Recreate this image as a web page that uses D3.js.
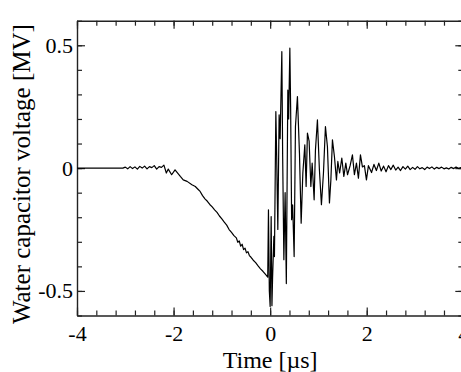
<!DOCTYPE html>
<html><head><meta charset="utf-8">
<script src="https://cdn.jsdelivr.net/npm/d3@7"></script>
<style>html,body{margin:0;padding:0;background:#fff;} svg{display:block;}</style>
</head><body><svg id="c" width="461" height="372"></svg>
<script>
// Time [µs]
const time = [
-4.00,-3.05,-3.00,-2.95,-2.90,-2.85,-2.80,-2.75,-2.70,-2.65,-2.60,-2.55,-2.50,-2.45,-2.40,-2.35,-2.30,-2.25,-2.20,-2.15,-2.11,-2.04,-1.97,-1.86,-1.80,-1.72,-1.62,-1.55,
-1.50,-1.45,-1.40,-1.35,-1.30,-1.25,-1.20,-1.15,-1.10,-1.05,-1.00,-0.95,-0.90,-0.85,-0.80,-0.75,-0.70,-0.67,-0.64,-0.61,-0.58,-0.55,-0.52,-0.49,-0.46,-0.43,-0.40,-0.35,-0.30,-0.25,-0.20,-0.15,-0.10,-0.05,
-0.035,-0.017,0.000,0.010,0.021,0.037,0.050,0.077,0.089,0.118,0.135,0.159,0.186,0.207,0.242,0.259,0.284,0.310,0.335,0.366,0.383,0.408,0.424,0.445,0.466,0.497,
0.524,0.565,0.607,0.642,0.677,0.718,0.745,0.772,0.807,0.843,0.870,0.911,0.938,0.979,1.020,1.062,1.104,1.145,1.186,1.228,1.257,1.290,1.331,1.373,1.402,1.439,1.484,1.526,1.567,1.602,1.656,1.704,1.745,1.787,1.828,1.870,1.911,1.952,1.994,2.035,
2.10,2.15,2.20,2.25,2.30,2.35,2.40,2.45,2.50,2.55,2.60,2.65,2.70,2.75,2.80,2.85,2.90,2.95,3.00,3.05,3.10,3.15,3.20,3.25,3.30,3.35,3.40,3.45,3.50,3.55,3.60,3.65,3.70,3.75,3.80,3.85,3.90,3.95,4.00
];
// Water capacitor voltage [MV]
const voltage = [
0,0,0.004,-0.003,0.006,-0.002,0.005,-0.004,0.007,0.000,0.008,-0.003,0.006,0.002,0.010,-0.004,0.006,0.003,0.012,-0.020,-0.004,-0.027,-0.007,-0.034,-0.048,-0.054,-0.068,-0.075,
-0.085,-0.095,-0.112,-0.125,-0.135,-0.148,-0.158,-0.170,-0.180,-0.195,-0.207,-0.220,-0.232,-0.250,-0.262,-0.275,-0.284,-0.302,-0.296,-0.318,-0.310,-0.332,-0.326,-0.345,-0.340,-0.356,-0.362,-0.375,-0.385,-0.398,-0.410,-0.420,-0.432,-0.444,
-0.170,-0.500,-0.563,-0.400,-0.197,-0.560,-0.450,-0.278,-0.360,0.230,0.050,-0.250,0.217,0.120,0.474,0.050,-0.373,-0.100,-0.470,0.318,0.200,0.488,0.250,-0.210,-0.150,-0.360,
0.169,0.291,0.061,-0.224,-0.020,0.095,-0.075,0.142,0.110,-0.075,0.020,-0.129,0.074,0.196,-0.007,-0.149,-0.020,0.169,0.088,-0.142,-0.050,0.115,0.047,-0.048,0.027,-0.020,0.041,-0.034,0.020,-0.027,0.010,0.054,-0.027,0.020,-0.041,0.054,0.005,0.010,-0.048,0.010,
-0.018,0.015,-0.010,0.020,-0.012,0.008,-0.015,0.010,-0.006,0.012,-0.008,0.004,-0.010,0.006,-0.004,0.008,-0.006,0.003,-0.005,0.006,-0.003,0.002,-0.006,0.004,-0.002,0.005,-0.004,0.003,-0.002,0.004,-0.003,0.001,-0.004,0.003,-0.002,0.004,-0.001,0.002,0.000
];
const xMajorTicks = [-4, -2, 0, 2, 4];
const xMajorLabels = ["-4", "-2", "0", "2", "4"];
const yMajorTicks = [-0.5, 0, 0.5];
const yMajorLabels = ["-0.5", "0", "0.5"];
const xTitle = "Time [\u00b5s]";
const yTitle = "Water capacitor voltage [MV]";

const svg = d3.select("#c");
const L = 77, R = 463.3, T = 20.7, B = 315.5;
const x = d3.scaleLinear().domain([-4, 4]).range([L, R]);
const y = d3.scaleLinear().domain([-0.6, 0.6]).range([B, T]);
const font = "'Liberation Serif','Times New Roman',serif";
const axisColor = "#222";

const xMinor = d3.range(-4, 4.0001, 0.4).map(v => +v.toFixed(2));
const yMinor = d3.range(-0.6, 0.6001, 0.1).map(v => +v.toFixed(2));

function styleAxis(g) {
  g.selectAll("path.domain").attr("stroke", axisColor).attr("stroke-width", 1.4);
  g.selectAll(".tick line").attr("stroke", axisColor).attr("stroke-width", 1.2);
  g.selectAll("text").attr("font-family", font).attr("font-size", 22).attr("fill", "#000");
}

// bottom
svg.append("g").attr("transform", `translate(0,${B})`)
  .call(d3.axisBottom(x).tickValues(xMinor).tickSize(-5).tickSizeOuter(0).tickFormat("")).call(styleAxis);
svg.append("g").attr("transform", `translate(0,${B})`)
  .call(d3.axisBottom(x).tickValues(xMajorTicks).tickSize(-8).tickSizeOuter(0).tickPadding(10)
    .tickFormat((d, i) => xMajorLabels[i])).call(styleAxis)
  .call(g => g.select("path.domain").remove());
// top
svg.append("g").attr("transform", `translate(0,${T})`)
  .call(d3.axisTop(x).tickValues(xMinor).tickSize(-5).tickSizeOuter(0).tickFormat("")).call(styleAxis);
svg.append("g").attr("transform", `translate(0,${T})`)
  .call(d3.axisTop(x).tickValues(xMajorTicks).tickSize(-8).tickSizeOuter(0).tickFormat("")).call(styleAxis)
  .call(g => g.select("path.domain").remove());
// left
svg.append("g").attr("transform", `translate(${L},0)`)
  .call(d3.axisLeft(y).tickValues(yMinor).tickSize(-5).tickSizeOuter(0).tickFormat("")).call(styleAxis);
svg.append("g").attr("transform", `translate(${L},0)`)
  .call(d3.axisLeft(y).tickValues(yMajorTicks).tickSize(-8).tickSizeOuter(0).tickPadding(4)
    .tickFormat((d, i) => yMajorLabels[i])).call(styleAxis)
  .call(g => g.select("path.domain").remove());
// right
svg.append("g").attr("transform", `translate(${R},0)`)
  .call(d3.axisRight(y).tickValues(yMinor).tickSize(-5).tickSizeOuter(0).tickFormat("")).call(styleAxis);
svg.append("g").attr("transform", `translate(${R},0)`)
  .call(d3.axisRight(y).tickValues(yMajorTicks).tickSize(-8).tickSizeOuter(0).tickFormat("")).call(styleAxis)
  .call(g => g.select("path.domain").remove());

// data line
const pts = time.map((t, i) => [t, voltage[i]]);
svg.append("path").datum(pts)
  .attr("fill", "none").attr("stroke", "#000").attr("stroke-width", 1.2).attr("stroke-linejoin", "round")
  .attr("d", d3.line().x(d => x(d[0])).y(d => y(d[1])));

// titles
svg.append("text").attr("x", x(0)).attr("y", 368).attr("text-anchor", "middle")
  .attr("font-family", font).attr("font-size", 24).text(xTitle);
svg.append("text").attr("transform", `translate(30,${(T + B) / 2 + 6}) rotate(-90)`).attr("text-anchor", "middle")
  .attr("font-family", font).attr("font-size", 25).text(yTitle);
</script>
</body></html>
